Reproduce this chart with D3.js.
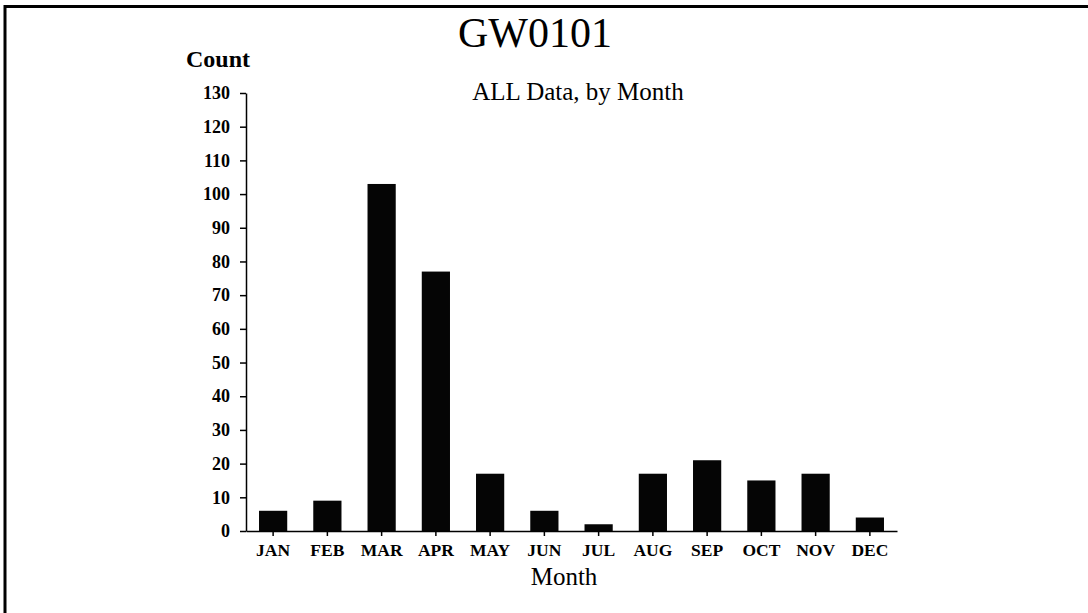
<!DOCTYPE html>
<html>
<head>
<meta charset="utf-8">
<script src="https://cdn.jsdelivr.net/npm/d3@7"></script>
<style>
  html, body { margin: 0; padding: 0; background: #fff; }
  svg { display: block; }
  text { font-family: "Liberation Serif", "Times New Roman", serif; fill: #000; }
</style>
</head>
<body>
<svg id="chart" width="1088" height="613"></svg>
<script>
// Monthly counts for station GW0101
const months = ["JAN", "FEB", "MAR", "APR", "MAY", "JUN", "JUL", "AUG", "SEP", "OCT", "NOV", "DEC"];
const counts = [6, 9, 103, 77, 17, 6, 2, 17, 21, 15, 17, 4];
const yTicks = [0, 10, 20, 30, 40, 50, 60, 70, 80, 90, 100, 110, 120, 130];

const svg = d3.select("#chart");
const W = 1088, H = 613;
const plot = { left: 246, right: 897, top: 93, bottom: 531 };

// Frame: heavy rule along the top, rule down the left side
svg.append("line").attr("x1", 4).attr("x2", W).attr("y1", 6.5).attr("y2", 6.5)
  .attr("stroke", "#000").attr("stroke-width", 3);
svg.append("line").attr("x1", 5).attr("x2", 5).attr("y1", 5).attr("y2", H)
  .attr("stroke", "#000").attr("stroke-width", 3);

const x = d3.scaleBand().domain(months).range([plot.left, plot.right])
  .paddingInner(0.48).paddingOuter(0.24);
const y = d3.scaleLinear().domain([0, 130]).range([plot.bottom, plot.top]);

// Bars
svg.append("g").selectAll("rect").data(months).join("rect")
  .attr("x", d => x(d))
  .attr("width", x.bandwidth())
  .attr("y", (d, i) => y(counts[i]))
  .attr("height", (d, i) => y(0) - y(counts[i]))
  .attr("fill", "#050505");

// Y axis
const yAxis = svg.append("g").attr("transform", `translate(${plot.left},0)`)
  .call(d3.axisLeft(y).tickValues(yTicks).tickSize(6).tickPadding(10).tickSizeOuter(0));
yAxis.select(".domain").attr("stroke-width", 1.5);
yAxis.selectAll(".tick line").attr("stroke-width", 1.5);
yAxis.selectAll("text")
  .style("font-family", "'Liberation Serif', serif")
  .style("font-size", "18px").style("font-weight", "bold");

// X axis
const xAxis = svg.append("g").attr("transform", `translate(0,${plot.bottom})`)
  .call(d3.axisBottom(x).tickSize(5).tickPadding(8).tickSizeOuter(0));
xAxis.select(".domain").attr("stroke-width", 1.5);
xAxis.selectAll(".tick line").attr("stroke-width", 1.5);
xAxis.selectAll("text")
  .style("font-family", "'Liberation Serif', serif")
  .style("font-size", "17.5px").style("font-weight", "bold");

// Titles
svg.append("text").attr("x", 535).attr("y", 47).attr("text-anchor", "middle")
  .style("font-size", "42px").text("GW0101");
svg.append("text").attr("x", 578).attr("y", 100).attr("text-anchor", "middle")
  .style("font-size", "25px").text("ALL Data, by Month");
svg.append("text").attr("x", 218).attr("y", 67).attr("text-anchor", "middle")
  .style("font-size", "24px").style("font-weight", "bold").text("Count");
svg.append("text").attr("x", 564).attr("y", 585).attr("text-anchor", "middle")
  .style("font-size", "25px").text("Month");
</script>
</body>
</html>
